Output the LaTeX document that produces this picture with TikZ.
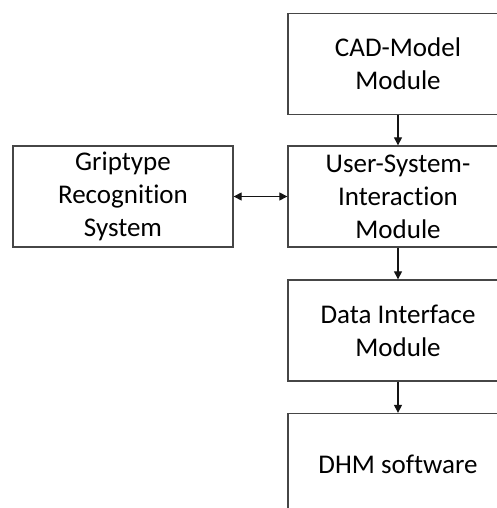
\documentclass[tikz,border=0pt]{standalone}
\usepackage{fontspec}
\setmainfont{Carlito}[Ligatures=NoCommon]
\usetikzlibrary{arrows.meta, positioning}
\definecolor{boxline}{RGB}{70,70,70}
\definecolor{arrowcol}{RGB}{20,20,20}
\tikzset{
  modbox/.style={draw=boxline, line width=1.3pt, fill=white, minimum width=220pt,
                 minimum height=101pt, align=center, font=\fontsize{27}{33}\selectfont,
                 inner sep=0pt},
  flow/.style={draw=arrowcol, line width=1.1pt, -{Triangle[length=8pt,width=8pt]}},
  both/.style={draw=arrowcol, line width=1.1pt,
               {Triangle[length=8pt,width=8pt]}-{Triangle[length=8pt,width=8pt]}}
}

\begin{document}
\begin{tikzpicture}[x=1pt,y=1pt]

% ── Canvas ────────────────────────────────────────────────────────────────────
\useasboundingbox (0,0) rectangle (497,508);
\clip (0,0) rectangle (497,508);

% ── Module column ─────────────────────────────────────────────────────────────
\node[modbox] (cad)  at (398,444)   {CAD-Model\\Module};
\node[modbox] (usi)  at (398,311.5) {User-System-\\Interaction\\Module};
\node[modbox] (dif)  at (398,177.5) {Data Interface\\Module};
\node[modbox] (dhm)  at (398,44)    {DHM software};

% ── Side system ───────────────────────────────────────────────────────────────
\node[modbox] (grip) at (123,311.5) {Griptype\\Recognition\\System};

% ── Connectors ────────────────────────────────────────────────────────────────
\draw[flow] (cad.south) -- (usi.north);
\draw[flow] (usi.south) -- (dif.north);
\draw[flow] (dif.south) -- (dhm.north);
\draw[both] (grip.east) -- (usi.west);

\end{tikzpicture}
\end{document}
